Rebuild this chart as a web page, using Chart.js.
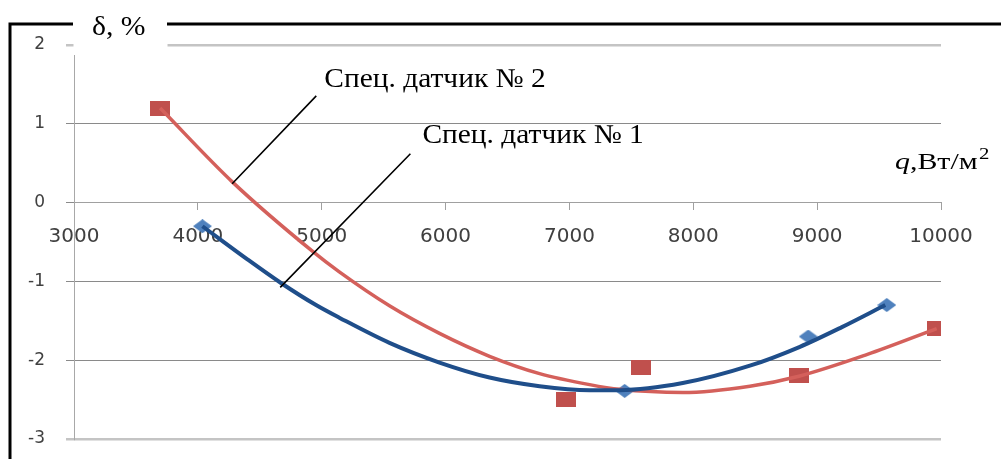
<!DOCTYPE html>
<html>
<head>
<meta charset="utf-8">
<script src="https://cdn.jsdelivr.net/npm/chart.js@4/dist/chart.umd.min.js"></script>
<style>
  html, body { margin: 0; padding: 0; background: #ffffff; }
  canvas { display: block; }
</style>
</head>
<body>
<canvas id="c" width="1001" height="459"></canvas>
<script>
// ---- Data ----
const sensor1X = [4037, 7446, 8928, 9562];
const sensor1Y = [-0.30, -2.39, -1.70, -1.30];
const sensor2X = [3695, 6974, 7576, 8855, 9966];
const sensor2Y = [1.20, -2.50, -2.09, -2.20, -1.60];

// trend curves
const trend1X = [4037, 4400, 4671, 4954, 5142, 5547, 5951, 6355, 6759, 7163, 7406, 7915, 8457, 8861, 9200, 9550];
const trend1Y = [-0.30, -0.72, -1.02, -1.30, -1.46, -1.78, -2.03, -2.22, -2.33, -2.38, -2.38, -2.29, -2.07, -1.83, -1.58, -1.30];
const trend2X = [3695, 4280, 4927, 5142, 5547, 5951, 6355, 6759, 7163, 7406, 7915, 8457, 8861, 9400, 9965];
const trend2Y = [1.20, 0.26, -0.62, -0.88, -1.31, -1.66, -1.95, -2.17, -2.31, -2.37, -2.41, -2.33, -2.20, -1.93, -1.60];

const xTicksMin = 3000, xTicksMax = 10000, xStep = 1000;
const yTicksMin = -3, yTicksMax = 2, yStep = 1;

const yAxisTitle = 'δ, %';
const xAxisTitleVar = 'q';
const xAxisTitleUnit = ',Вт/м';
const xAxisTitleSup = '2';
const label2Text = 'Спец. датчик № 2';
const label1Text = 'Спец. датчик № 1';
// annotation anchors in data coordinates
const label2At = [5021, 1.47];
const label1At = [5813, 0.76];
const leader2 = [[4956, 1.354], [4277, 0.24]];
const leader1 = [[5716, 0.62], [4665, -1.076]];

function pts(xs, ys) { return xs.map((x, i) => ({x: x, y: ys[i]})); }

// custom marker images
function makeSquare(w, h, color) {
  const c = document.createElement('canvas'); c.width = w; c.height = h;
  const g = c.getContext('2d'); g.fillStyle = color; g.fillRect(0, 0, w, h); return c;
}
function makeDiamond(w, h, color) {
  const c = document.createElement('canvas'); c.width = w; c.height = h;
  const g = c.getContext('2d'); g.fillStyle = color;
  g.beginPath(); g.moveTo(w/2, 0); g.lineTo(w, h/2); g.lineTo(w/2, h); g.lineTo(0, h/2); g.closePath(); g.fill();
  return c;
}
const redSquare = makeSquare(20, 15, '#C0504D');
const blueDiamond = makeDiamond(19, 14, '#4F81BD');

function stretchedText(ctx, text, x, y, sx) {
  ctx.save(); ctx.translate(x, y); ctx.scale(sx, 1); ctx.fillText(text, 0, 0); ctx.restore();
}

const decor = {
  id: 'decor',
  beforeDraw(chart) {
    const ctx = chart.ctx;
    ctx.save(); ctx.fillStyle = '#ffffff'; ctx.fillRect(0, 0, chart.width, chart.height); ctx.restore();
  },
  afterDraw(chart) {
    const ctx = chart.ctx, xs = chart.scales.x, ys = chart.scales.y;
    ctx.save();
    // white box behind y-axis title
    ctx.fillStyle = '#ffffff';
    ctx.fillRect(73.5, 12, 94, 43);
    // frame lines
    ctx.strokeStyle = '#000000'; ctx.lineWidth = 3;
    ctx.beginPath();
    ctx.moveTo(10, 459); ctx.lineTo(10, 24); ctx.lineTo(73, 24);
    ctx.moveTo(167, 24); ctx.lineTo(1001, 24);
    ctx.stroke();
    // y-axis title
    ctx.fillStyle = '#000000';
    ctx.font = '27px "Liberation Serif"';
    ctx.textBaseline = 'alphabetic'; ctx.textAlign = 'left';
    stretchedText(ctx, yAxisTitle, 92, 35, 1.1);
    // x-axis title
    ctx.save();
    ctx.translate(895, 169);
    ctx.scale(1.3, 1);
    ctx.font = 'italic 23px "Liberation Serif"';
    ctx.fillText(xAxisTitleVar, 0, 0);
    let w = ctx.measureText(xAxisTitleVar).width;
    ctx.font = '23px "Liberation Serif"';
    ctx.fillText(xAxisTitleUnit, w, 0);
    w += ctx.measureText(xAxisTitleUnit).width;
    ctx.font = '16px "Liberation Serif"';
    ctx.fillText(xAxisTitleSup, w + 1, -10);
    ctx.restore();
    // leader lines
    ctx.strokeStyle = '#000000'; ctx.lineWidth = 1.6;
    ctx.beginPath();
    [leader2, leader1].forEach(l => {
      ctx.moveTo(xs.getPixelForValue(l[0][0]), ys.getPixelForValue(l[0][1]));
      ctx.lineTo(xs.getPixelForValue(l[1][0]), ys.getPixelForValue(l[1][1]));
    });
    ctx.stroke();
    // labels
    ctx.font = '27px "Liberation Serif"';
    stretchedText(ctx, label2Text, xs.getPixelForValue(label2At[0]), ys.getPixelForValue(label2At[1]), 1.09);
    stretchedText(ctx, label1Text, xs.getPixelForValue(label1At[0]), ys.getPixelForValue(label1At[1]), 1.09);
    ctx.restore();
  }
};

new Chart(document.getElementById('c'), {
  type: 'scatter',
  data: {
    datasets: [
      { label: 'trend1', data: pts(trend1X, trend1Y), showLine: true, borderColor: '#1F4E8A', borderWidth: 4,
        pointRadius: 0, cubicInterpolationMode: 'monotone', fill: false, order: 1 },
      { label: 'trend2', data: pts(trend2X, trend2Y), showLine: true, borderColor: '#D4605B', borderWidth: 3.5,
        pointRadius: 0, cubicInterpolationMode: 'monotone', fill: false, order: 2 },
      { label: 'sensor1', data: pts(sensor1X, sensor1Y), pointStyle: blueDiamond, pointRadius: 9, order: 3 },
      { label: 'sensor2', data: pts(sensor2X, sensor2Y), pointStyle: redSquare, pointRadius: 10, order: 4 }
    ]
  },
  options: {
    responsive: false,
    animation: false,
    devicePixelRatio: 1,
    layout: { padding: { left: 0, top: 45, right: 60, bottom: 20 } },
    plugins: { legend: { display: false }, tooltip: { enabled: false }, title: { display: false } },
    scales: {
      x: {
        type: 'linear', position: { y: 0 },
        min: xTicksMin, max: xTicksMax,
        afterFit(scale) { scale.height = 0; },
        ticks: { stepSize: xStep, padding: 15, color: '#404040', font: { family: 'DejaVu Sans', size: 20 }, maxRotation: 0,
                 callback: v => String(v) },
        grid: { drawOnChartArea: false, drawTicks: true, tickLength: 7, color: '#a0a0a0' },
        border: { display: true, color: '#a0a0a0', width: 1 }
      },
      y: {
        min: yTicksMin, max: yTicksMax,
        afterFit(scale) { scale.width = 74; scale.paddingTop = 0; scale.paddingBottom = 0; },
        ticks: { stepSize: yStep, padding: 21, color: '#404040', font: { family: 'DejaVu Sans', size: 17 },
                 callback: v => String(v) },
        grid: {
          tickLength: 8,
          color: c => (c.tick && (c.tick.value === 2 || c.tick.value === -3)) ? '#c4c4c4' : '#8a8a8a',
          lineWidth: c => (c.tick && (c.tick.value === 2 || c.tick.value === -3)) ? 2.5 : 1
        },
        border: { display: true, color: '#a8a8a8', width: 1 }
      }
    }
  },
  plugins: [decor]
});
</script>
</body>
</html>
